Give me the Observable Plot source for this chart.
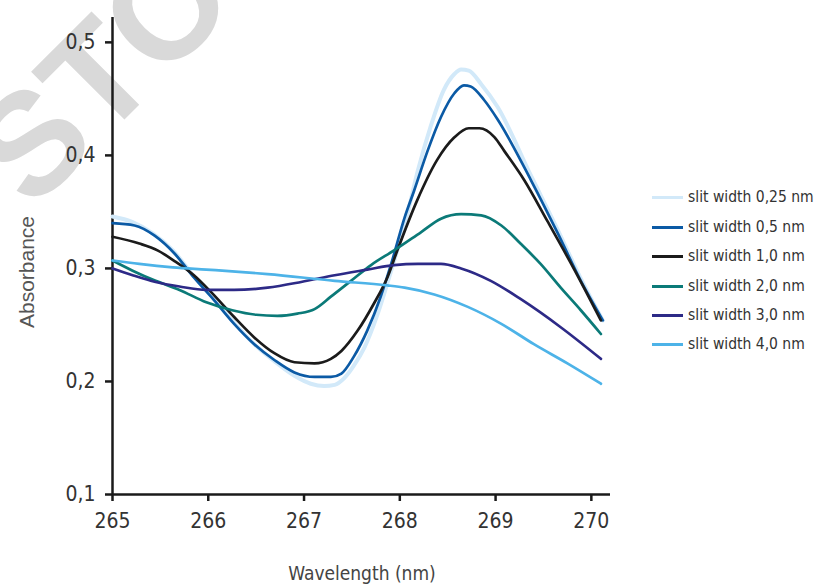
<!DOCTYPE html>
<html><head><meta charset="utf-8">
<script src="https://cdn.jsdelivr.net/npm/d3@7"></script>
<script src="https://cdn.jsdelivr.net/npm/@observablehq/plot@0.6"></script>
<style>
body{margin:0;background:#fff;}
#wrap{position:relative;width:820px;height:585px;overflow:hidden;background:#fff;}
#wm,#chart{position:absolute;left:0;top:0;}
.cond{font-family:'DejaVu Sans Condensed','DejaVu Sans',sans-serif;font-stretch:condensed;}
#xlabel{position:absolute;left:0;width:724px;text-align:center;top:562px;font-size:19px;color:#444;}
#ylabel{position:absolute;left:27px;top:272px;transform:translate(-50%,-50%) rotate(-90deg);font-family:'Liberation Sans',Arial,sans-serif;font-size:21px;color:#555;white-space:nowrap;}
.lg{position:absolute;left:652px;height:20px;display:flex;align-items:center;font-size:15.5px;color:#333;white-space:nowrap;}
.lg span.sw{display:inline-block;width:31px;height:3px;margin-right:5px;}
</style></head><body>
<div id="wrap">
<svg id="wm" width="820" height="585"><text transform="translate(32,212) rotate(-45)" font-family="Liberation Sans, Arial, sans-serif" font-weight="bold" font-size="145" fill="#d9d9d9">STOCK</text></svg>
<div id="chart"></div>
<div id="legend" class="cond"></div>
<div id="xlabel" class="cond">Wavelength (nm)</div>
<div id="ylabel">Absorbance</div>
</div>
<script>
// Wavelength (nm), absorbance pairs
const s025 = [[265.00,0.346],[265.21,0.341],[265.42,0.331],[265.63,0.316],[265.85,0.293],[266.06,0.273],[266.27,0.252],[266.48,0.233],[266.69,0.218],[266.90,0.205],[267.07,0.198],[267.21,0.196],[267.32,0.197],[267.42,0.203],[267.52,0.214],[267.63,0.230],[267.77,0.260],[267.91,0.298],[268.07,0.345],[268.19,0.387],[268.32,0.425],[268.46,0.458],[268.57,0.472],[268.64,0.476],[268.72,0.475],[268.85,0.463],[269.02,0.443],[269.37,0.382],[269.65,0.334],[269.89,0.291],[270.12,0.254]];
const s05 = [[265.00,0.340],[265.23,0.338],[265.44,0.329],[265.65,0.313],[265.85,0.292],[266.06,0.272],[266.27,0.251],[266.48,0.233],[266.69,0.219],[266.90,0.208],[267.11,0.204],[267.28,0.204],[267.39,0.207],[267.52,0.222],[267.66,0.245],[267.80,0.275],[267.91,0.304],[268.05,0.345],[268.15,0.369],[268.29,0.404],[268.43,0.434],[268.57,0.455],[268.67,0.462],[268.74,0.461],[268.88,0.449],[269.02,0.432],[269.37,0.378],[269.65,0.331],[269.89,0.289],[270.12,0.254]];
const s10 = [[265.00,0.328],[265.28,0.322],[265.47,0.316],[265.64,0.307],[265.85,0.294],[266.03,0.279],[266.27,0.257],[266.48,0.239],[266.69,0.225],[266.90,0.217],[267.11,0.216],[267.28,0.220],[267.39,0.227],[267.56,0.245],[267.73,0.269],[267.87,0.292],[267.97,0.315],[268.18,0.360],[268.39,0.396],[268.57,0.416],[268.72,0.424],[268.83,0.424],[268.99,0.416],[269.09,0.404],[269.30,0.378],[269.54,0.342],[269.79,0.304],[269.99,0.272],[270.10,0.254]];
const s20 = [[265.00,0.307],[265.21,0.298],[265.45,0.289],[265.70,0.281],[265.98,0.270],[266.25,0.263],[266.50,0.259],[266.72,0.258],[266.93,0.260],[267.11,0.264],[267.28,0.275],[267.49,0.289],[267.70,0.303],[267.94,0.316],[268.22,0.332],[268.43,0.344],[268.64,0.348],[268.85,0.347],[269.06,0.338],[269.26,0.322],[269.47,0.304],[269.68,0.283],[269.89,0.263],[270.10,0.242]];
const s30 = [[265.00,0.300],[265.21,0.294],[265.45,0.288],[265.70,0.284],[265.98,0.281],[266.27,0.281],[266.62,0.283],[266.97,0.288],[267.32,0.294],[267.66,0.299],[267.94,0.303],[268.19,0.304],[268.43,0.304],[268.64,0.300],[268.95,0.289],[269.26,0.273],[269.68,0.248],[270.10,0.220]];
const s40 = [[265.00,0.307],[265.28,0.304],[265.63,0.301],[265.98,0.299],[266.32,0.297],[266.62,0.295],[267.32,0.289],[267.87,0.285],[268.05,0.283],[268.36,0.277],[268.71,0.266],[269.06,0.251],[269.40,0.233],[269.75,0.216],[270.10,0.198]];

const seriesNames = ["slit width 0,25 nm","slit width 0,5 nm","slit width 1,0 nm","slit width 2,0 nm","slit width 3,0 nm","slit width 4,0 nm"];
const seriesColors = ["#d2e9f9","#0b5aa5","#1b1b1b","#0b7a78","#2d2a87","#4db3e8"];
const seriesWidths = [4,2.7,2.7,2.7,2.7,2.7];
const seriesData = [s025,s05,s10,s20,s30,s40];
const xTicks = [265,266,267,268,269,270];
const yTicks = [0.1,0.2,0.3,0.4,0.5];

const lines = seriesData.map((s,i) => Plot.line(s, {x: d => d[0], y: d => d[1], stroke: seriesColors[i], strokeWidth: seriesWidths[i], curve: "monotone-x", strokeLinejoin: "round"}));

const chart = Plot.plot({
  width: 820, height: 585,
  marginLeft: 112, marginRight: 210, marginTop: 17, marginBottom: 91,
  style: {background: "transparent", fontFamily: "'DejaVu Sans Condensed','DejaVu Sans',sans-serif", fontSize: "21px", color: "#333", fontStretch: "condensed"},
  x: {domain: [265, 270.2]},
  y: {domain: [0.1, 0.522]},
  marks: [
    Plot.axisX({ticks: xTicks, tickSize: 7, tickPadding: 12, tickFormat: d => String(d), stroke: "#1a1a1a", fill: "#333", strokeWidth: 2.5, label: null}),
    Plot.axisY({ticks: yTicks, tickSize: 7, tickPadding: 10, tickFormat: d => d.toFixed(1).replace(".", ","), stroke: "#1a1a1a", fill: "#333", strokeWidth: 2.5, label: null}),
    Plot.ruleY([0.1], {stroke: "#1a1a1a", strokeWidth: 2.5}),
    Plot.ruleX([265], {stroke: "#1a1a1a", strokeWidth: 2.5}),
    ...lines
  ]
});
document.getElementById("chart").appendChild(chart);

const legend = document.getElementById("legend");
const rowY = [197, 227, 256, 286, 315, 344];
seriesNames.forEach((n,i) => {
  const row = document.createElement("div");
  row.className = "lg";
  row.style.top = (rowY[i] - 10) + "px";
  row.innerHTML = `<span class="sw" style="background:${seriesColors[i]}"></span>${n}`;
  legend.appendChild(row);
});
</script>
</body></html>
